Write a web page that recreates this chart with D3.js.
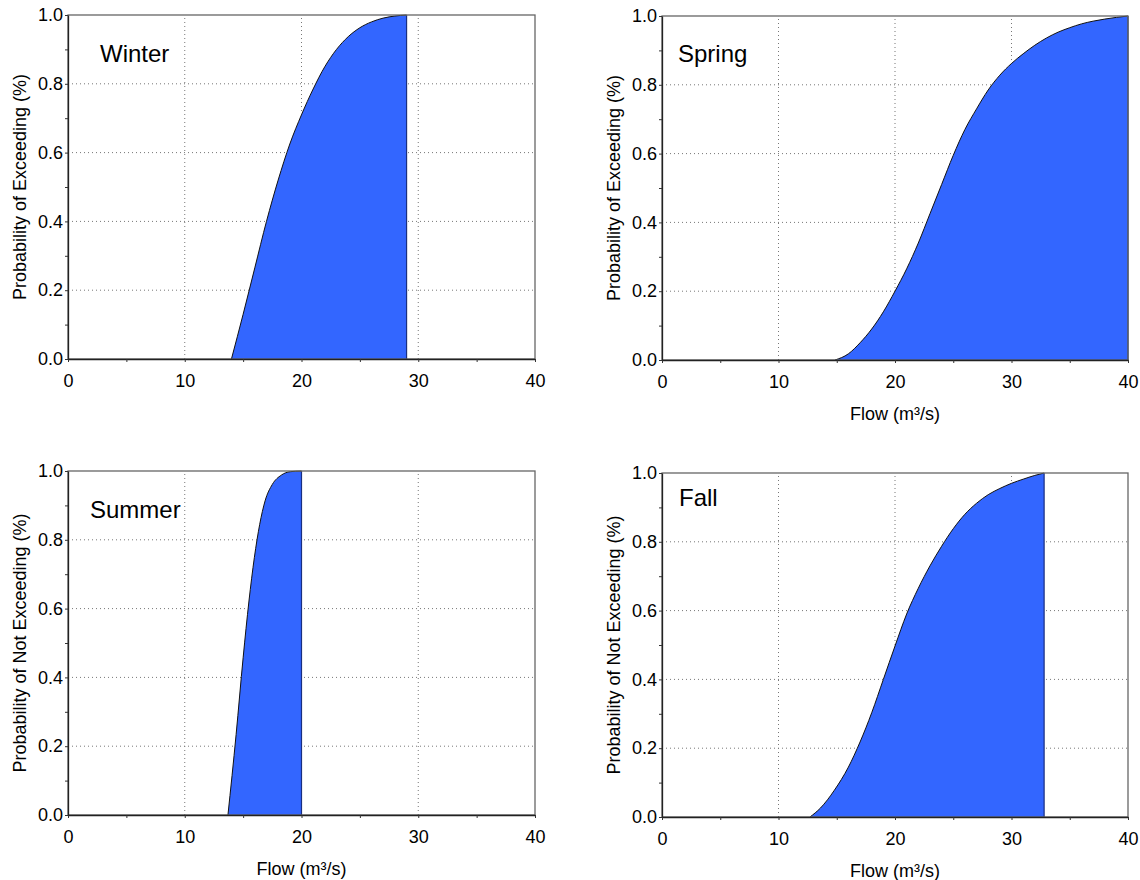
<!DOCTYPE html>
<html>
<head>
<meta charset="utf-8">
<script src="https://cdn.jsdelivr.net/npm/d3@7"></script>
<style>
  body { margin: 0; background: #fff; }
  text { font-family: "Liberation Sans", Arial, sans-serif; fill: #000; }
</style>
</head>
<body>
<script>
// values
const xTicks = [0, 10, 20, 30, 40];
const yTicks = [0, 0.2, 0.4, 0.6, 0.8, 1.0];

const winterFlow = [14.0, 15.0, 16.0, 17.0, 18.0, 19.0, 20.0, 21.0, 22.0, 23.0, 24.0, 25.0, 26.0, 27.0, 28.0, 29.0];
const winterProb = [0, 0.13, 0.265, 0.4, 0.52, 0.625, 0.71, 0.785, 0.85, 0.9, 0.937, 0.963, 0.98, 0.991, 0.997, 1.0];

const springFlow = [14.85, 16, 17, 18, 19, 20, 21, 22, 23, 24, 25, 26, 27, 28, 29, 30, 31, 32, 33, 34, 35, 36, 37, 38, 39, 40];
const springProb = [0, 0.018, 0.05, 0.09, 0.14, 0.2, 0.265, 0.34, 0.425, 0.51, 0.595, 0.67, 0.73, 0.785, 0.828, 0.862, 0.89, 0.915, 0.936, 0.953, 0.966, 0.977, 0.985, 0.991, 0.996, 1.0];

const summerFlow = [13.7, 14.4, 15.0, 15.5, 15.96, 16.42, 16.88, 17.5, 18.27, 19.03, 20.0];
const summerProb = [0, 0.234, 0.457, 0.622, 0.748, 0.845, 0.913, 0.961, 0.988, 0.998, 1.0];

const fallFlow = [12.7, 13.6, 14.8, 16.0, 17.0, 18.0, 19.0, 20.0, 21.0, 22.0, 23.0, 24.0, 25.0, 26.0, 27.0, 28.0, 29.0, 30.0, 31.0, 32.0, 32.8];
const fallProb = [0, 0.026, 0.078, 0.145, 0.218, 0.303, 0.4, 0.497, 0.59, 0.665, 0.73, 0.787, 0.838, 0.88, 0.912, 0.937, 0.955, 0.97, 0.982, 0.993, 1.0];

const panels = [
  {name: "Winter", flow: winterFlow, prob: winterProb, ylab: "Probability of Exceeding (%)",
   x0: 68, x1: 535, y0: 15, y1: 359, flowLabel: false, lx: 100, ly: 62, tx: 20},
  {name: "Spring", flow: springFlow, prob: springProb, ylab: "Probability of Exceeding (%)",
   x0: 662, x1: 1128, y0: 16, y1: 360, flowLabel: true, lx: 678, ly: 62, tx: 614},
  {name: "Summer", flow: summerFlow, prob: summerProb, ylab: "Probability of Not Exceeding (%)",
   x0: 68, x1: 535, y0: 471, y1: 815, flowLabel: true, lx: 90, ly: 518, tx: 20},
  {name: "Fall", flow: fallFlow, prob: fallProb, ylab: "Probability of Not Exceeding (%)",
   x0: 662, x1: 1128, y0: 473, y1: 817, flowLabel: true, lx: 679, ly: 506, tx: 614}
];

const svg = d3.select("body")
    .append("svg")
    .attr("width", 1140)
    .attr("height", 880);

panels.forEach(function (p) {
    const x = d3.scaleLinear().domain([0, 40]).range([p.x0, p.x1]);
    const y = d3.scaleLinear().domain([0, 1]).range([p.y1, p.y0]);
    const g = svg.append("g");

    // grid
    g.selectAll(".vgrid")
        .data([10, 20, 30])
        .enter()
        .append("line")
        .attr("x1", function (d) { return x(d); })
        .attr("x2", function (d) { return x(d); })
        .attr("y1", y(0))
        .attr("y2", y(1))
        .style("stroke", "#777")
        .style("stroke-dasharray", "1,3");
    g.selectAll(".hgrid")
        .data([0.2, 0.4, 0.6, 0.8])
        .enter()
        .append("line")
        .attr("x1", x(0))
        .attr("x2", x(40))
        .attr("y1", function (d) { return y(d); })
        .attr("y2", function (d) { return y(d); })
        .style("stroke", "#777")
        .style("stroke-dasharray", "1,3");

    const pts = p.flow.map(function (f, i) { return [f, p.prob[i]]; });

    const area = d3.area()
        .x(function (d) { return x(d[0]); })
        .y0(y(0))
        .y1(function (d) { return y(d[1]); })
        .curve(d3.curveMonotoneX);
    g.append("path")
        .datum(pts)
        .attr("d", area)
        .style("fill", "#3366ff");

    const line = d3.line()
        .x(function (d) { return x(d[0]); })
        .y(function (d) { return y(d[1]); })
        .curve(d3.curveMonotoneX);
    g.append("path")
        .datum(pts)
        .attr("d", line)
        .style("fill", "none")
        .style("stroke", "#111")
        .style("stroke-width", 1);

    // right edge of the filled region
    const last = pts[pts.length - 1];
    g.append("line")
        .attr("x1", x(last[0]))
        .attr("x2", x(last[0]))
        .attr("y1", y(0))
        .attr("y2", y(last[1]))
        .style("stroke", "#1a2f80")
        .style("stroke-width", 1.2);

    // frame
    g.append("rect")
        .attr("x", p.x0)
        .attr("y", p.y0)
        .attr("width", p.x1 - p.x0)
        .attr("height", p.y1 - p.y0)
        .style("fill", "none")
        .style("stroke", "#666")
        .style("stroke-width", 1.3);

    const xa = g.append("g")
        .attr("transform", "translate(0," + p.y1 + ")")
        .call(d3.axisBottom(x).tickValues(d3.range(0, 41, 5)).tickSize(3).tickSizeOuter(0).tickFormat(function (d) {
            return xTicks.indexOf(d) >= 0 ? d : "";
        }).tickPadding(12));
    const ya = g.append("g")
        .attr("transform", "translate(" + p.x0 + ",0)")
        .call(d3.axisLeft(y).tickValues(d3.range(0, 11).map(function (i) { return i / 10; })).tickSize(3).tickSizeOuter(0).tickFormat(function (d) {
            return yTicks.some(function (t) { return Math.abs(t - d) < 1e-9; }) ? d3.format(".1f")(d) : "";
        }).tickPadding(2));

    [xa, ya].forEach(function (a) {
        a.select(".domain").style("stroke", "#222").style("stroke-width", 1.3);
        a.selectAll(".tick line").style("stroke", "#333");
        a.selectAll("text")
            .attr("font-size", "18px")
            .attr("font-family", "Liberation Sans, Arial, sans-serif")
            .attr("fill", "#000");
    });

    // labels
    g.append("text")
        .attr("x", p.lx)
        .attr("y", p.ly)
        .attr("font-size", "24px")
        .text(p.name);

    g.append("text")
        .attr("transform", "translate(" + p.tx + "," + ((p.y0 + p.y1) / 2) + ") rotate(-90)")
        .attr("text-anchor", "middle")
        .attr("dominant-baseline", "central")
        .attr("font-size", "18px")
        .text(p.ylab);

    if (p.flowLabel) {
        g.append("text")
            .attr("x", (p.x0 + p.x1) / 2)
            .attr("y", p.y1 + 60)
            .attr("text-anchor", "middle")
            .attr("font-size", "18px")
            .text("Flow (m³/s)");
    }
});
</script>
</body>
</html>
